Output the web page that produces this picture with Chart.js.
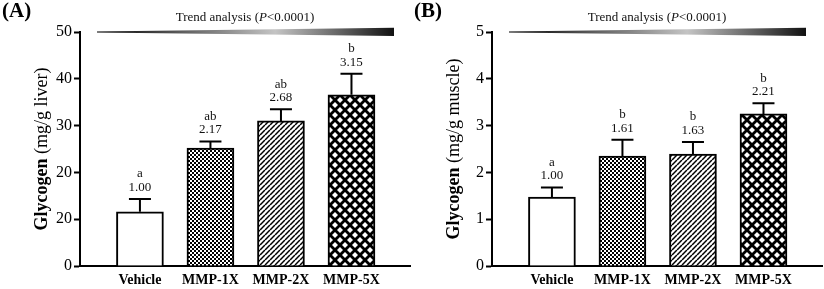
<!DOCTYPE html>
<html>
<head>
<meta charset="utf-8">
<script src="https://cdn.jsdelivr.net/npm/chart.js@4/dist/chart.umd.min.js"></script>
<style>
  html, body { margin: 0; padding: 0; background: #fff; }
  #wrap { position: relative; width: 824px; height: 289px; overflow: hidden; }
  canvas { position: absolute; top: 0; }
  #cA { left: 0; }
  #cB { left: 412px; }
</style>
</head>
<body>
<div id="wrap">
  <canvas id="cA" width="412" height="289"></canvas>
  <canvas id="cB" width="412" height="289"></canvas>
</div>
<script>
// ---- data ----
const categories = ['Vehicle', 'MMP-1X', 'MMP-2X', 'MMP-5X'];

const liverMean = [11.6, 25.2, 31.0, 36.6];
const liverSem = [2.7, 1.4, 2.5, 4.5];
const liverLetters = ['a', 'ab', 'ab', 'b'];
const liverFold = ['1.00', '2.17', '2.68', '3.15'];
const liverTickLabels = ['0', '20', '20', '30', '40', '50'];

const muscleMean = [1.47, 2.35, 2.39, 3.25];
const muscleSem = [0.21, 0.35, 0.26, 0.23];
const muscleLetters = ['a', 'b', 'b', 'b'];
const muscleFold = ['1.00', '1.61', '1.63', '2.21'];
const muscleTickLabels = ['0', '1', '2', '3', '4', '5'];

const SERIF = "'Liberation Serif', 'Times New Roman', serif";

// ---- patterns ----
function makePattern(size, drawFn) {
  const c = document.createElement('canvas');
  c.width = size; c.height = size;
  const g = c.getContext('2d');
  drawFn(g, size);
  return g.createPattern(c, 'repeat');
}
function buildPatterns() {
  const white = '#ffffff';
  const checker = makePattern(4, (g) => {
    g.fillStyle = '#fff'; g.fillRect(0, 0, 4, 4);
    g.fillStyle = '#000'; g.fillRect(0, 0, 2, 2); g.fillRect(2, 2, 2, 2);
  });
  const diag = makePattern(5, (g, s) => {
    g.fillStyle = '#fff'; g.fillRect(0, 0, s, s);
    g.strokeStyle = '#000'; g.lineWidth = 1.5;
    for (let k = -1; k <= 1; k++) {
      g.beginPath(); g.moveTo(k * s, s); g.lineTo(k * s + s, 0); g.stroke();
    }
  });
  const diamonds = makePattern(10, (g, s) => {
    g.fillStyle = '#000'; g.fillRect(0, 0, s, s);
    g.fillStyle = '#fff';
    const r = 3;
    const centers = [[5, 5], [0, 0], [10, 0], [0, 10], [10, 10]];
    centers.forEach(([cx, cy]) => {
      g.beginPath();
      g.moveTo(cx, cy - r); g.lineTo(cx + r, cy); g.lineTo(cx, cy + r); g.lineTo(cx - r, cy);
      g.closePath(); g.fill();
    });
  });
  return [white, checker, diag, diamonds];
}

// ---- overlay plugin: error bars, labels, titles, trend wedge ----
const overlay = {
  id: 'overlay',
  afterDatasetsDraw(chart) {
    const o = chart.options.plugins.overlay;
    const ctx = chart.ctx;
    const xs = chart.scales.x, ys = chart.scales.y;
    ctx.save();
    ctx.strokeStyle = '#000';
    ctx.lineWidth = 2;
    o.mean.forEach((m, i) => {
      const px = xs.getPixelForValue(i);
      const y0 = ys.getPixelForValue(m);
      const y1 = ys.getPixelForValue(m + o.sem[i]);
      ctx.beginPath();
      ctx.moveTo(px, y0); ctx.lineTo(px, y1);
      ctx.moveTo(px - 11, y1); ctx.lineTo(px + 11, y1);
      ctx.stroke();
      ctx.fillStyle = '#111';
      ctx.font = '13px ' + SERIF;
      ctx.textAlign = 'center';
      ctx.textBaseline = 'middle';
      ctx.fillText(o.fold[i], px, y1 - 11.5);
      ctx.fillText(o.letters[i], px, y1 - 25);
    });
    // y title (mixed weight)
    ctx.save();
    ctx.translate(42, (chart.chartArea.top + chart.chartArea.bottom) / 2);
    ctx.rotate(-Math.PI / 2);
    ctx.textBaseline = 'middle';
    ctx.textAlign = 'left';
    ctx.fillStyle = '#000';
    const boldF = 'bold 18px ' + SERIF, normF = '18px ' + SERIF;
    ctx.font = boldF; const w1 = ctx.measureText(o.titleBold).width;
    ctx.font = normF; const w2 = ctx.measureText(o.titleNormal).width;
    const sx = -(w1 + w2) / 2;
    ctx.font = boldF; ctx.fillText(o.titleBold, sx, 0);
    ctx.font = normF; ctx.fillText(o.titleNormal, sx + w1, 0);
    ctx.restore();
    // panel label
    ctx.fillStyle = '#000';
    ctx.font = 'bold 21px ' + SERIF;
    ctx.textAlign = 'left';
    ctx.textBaseline = 'middle';
    ctx.fillText(o.panel, 2, 12);
    // trend wedge
    const xL = 97, xR = 394, yc = 32;
    const grad = ctx.createLinearGradient(xL, 0, xR, 0);
    grad.addColorStop(0, '#000');
    grad.addColorStop(0.6, '#c4c4c4');
    grad.addColorStop(1, '#111');
    ctx.fillStyle = grad;
    ctx.beginPath();
    ctx.moveTo(xL, yc - 0.6); ctx.lineTo(xR, yc - 4.3);
    ctx.lineTo(xR, yc + 4.0); ctx.lineTo(xL, yc + 0.6);
    ctx.closePath(); ctx.fill();
    // trend text with italic P
    const parts = [['Trend analysis (', '13px '], ['P', 'italic 13px '], ['<0.0001)', '13px ']];
    let tw = 0;
    parts.forEach(p => { ctx.font = p[1] + SERIF; tw += ctx.measureText(p[0]).width; });
    let tx = 245 - tw / 2;
    ctx.fillStyle = '#111';
    ctx.textAlign = 'left';
    ctx.textBaseline = 'middle';
    parts.forEach(p => { ctx.font = p[1] + SERIF; ctx.fillText(p[0], tx, 18); tx += ctx.measureText(p[0]).width; });
    ctx.restore();
  }
};

function makeChart(id, cfg) {
  const el = document.getElementById(id);
  const pats = buildPatterns();
  return new Chart(el, {
    type: 'bar',
    data: {
      datasets: [{
        data: cfg.mean.map((v, i) => ({ x: i, y: v })),
        backgroundColor: pats,
        borderColor: '#000',
        borderWidth: 2,
        barThickness: 47,
        borderSkipped: 'start'
      }]
    },
    options: {
      responsive: false,
      animation: false,
      devicePixelRatio: 1,
      layout: { padding: { top: 32, right: 2, left: 0, bottom: 0 } },
      plugins: {
        legend: { display: false },
        tooltip: { enabled: false },
        overlay: cfg
      },
      scales: {
        x: {
          type: 'linear',
          offset: false,
          min: -0.85,
          max: 3.83,
          afterBuildTicks: (s) => { s.ticks = categories.map((c, i) => ({ value: i })); },
          ticks: {
            callback: (v) => categories[v],
            font: { family: SERIF, weight: 'bold', size: 14 },
            color: '#000',
            padding: 6,
            maxRotation: 0,
            autoSkip: false
          },
          grid: { display: false, drawTicks: false },
          border: { display: true, color: '#000', width: 2 },
          afterFit: (s) => { s.height = 23; }
        },
        y: {
          min: 0,
          max: cfg.max,
          ticks: {
            stepSize: cfg.step,
            callback: (v, i) => cfg.tickLabels[i],
            font: { family: SERIF, size: 16 },
            color: '#000',
            padding: 2
          },
          grid: { drawOnChartArea: false, drawTicks: true, tickLength: 6, tickWidth: 2, tickColor: '#000', color: '#000' },
          border: { display: true, color: '#000', width: 2 },
          afterFit: (s) => { s.width = 80; }
        }
      }
    },
    plugins: [overlay]
  });
}

makeChart('cA', {
  panel: '(A)', mean: liverMean, sem: liverSem, letters: liverLetters, fold: liverFold,
  tickLabels: liverTickLabels, max: 50, step: 10,
  titleBold: 'Glycogen ', titleNormal: '(mg/g liver)'
});
makeChart('cB', {
  panel: '(B)', mean: muscleMean, sem: muscleSem, letters: muscleLetters, fold: muscleFold,
  tickLabels: muscleTickLabels, max: 5, step: 1,
  titleBold: 'Glycogen ', titleNormal: '(mg/g muscle)'
});
</script>
</body>
</html>
